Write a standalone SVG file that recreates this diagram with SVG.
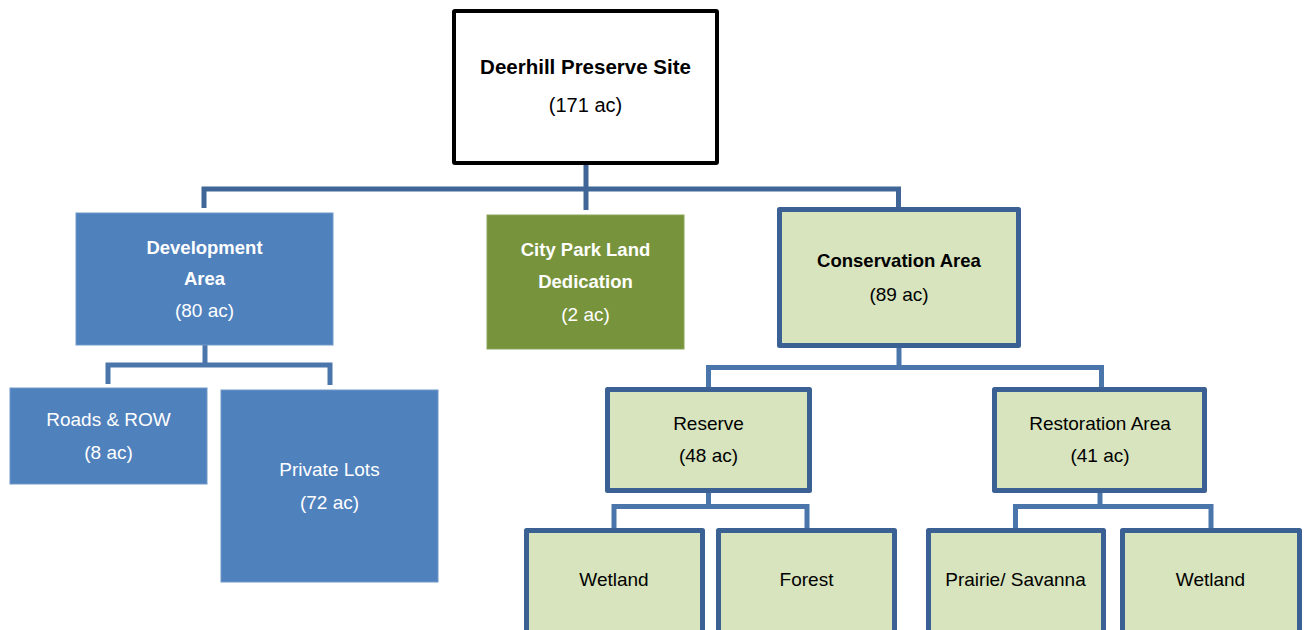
<svg xmlns="http://www.w3.org/2000/svg" width="1306" height="630" viewBox="0 0 1306 630">
<style>
  text { font-family: "Liberation Sans", Arial, sans-serif; font-size: 19px; text-anchor: middle; }
  .b { font-weight: bold; font-size: 18.5px; }
  .w { fill: #ffffff; }
  .k { fill: #000000; }
  .blue { fill: #4f81bd; stroke: #7097c8; stroke-width: 1; }
  .olive { fill: #77933c; stroke: #8aa555; stroke-width: 1; }
  .pale { fill: #d7e4bd; stroke: #3b6194; stroke-width: 5; stroke-linejoin: round; }
  .conn { fill: none; stroke-width: 5; }
  .c1 { stroke: #3f6696; }
  .c2 { stroke: #4a76ac; }
</style>
<rect width="1306" height="630" fill="#ffffff"/>

<g id="connectors">
  <path class="conn c1" d="M586,165 V210"/>
  <path class="conn c1" d="M204,208 V189 H898.5 V208"/>
  <path class="conn c2" d="M205,345 V365"/>
  <path class="conn c2" d="M108,384 V365 H330 V385"/>
  <path class="conn c2" d="M899,348 V367.5"/>
  <path class="conn c2" d="M708.5,388 V367.5 H1101.5 V388"/>
  <path class="conn c2" d="M708.5,493 V506.5"/>
  <path class="conn c2" d="M614,529 V506.5 H807 V529"/>
  <path class="conn c2" d="M1100,493 V506.5"/>
  <path class="conn c2" d="M1015.5,529 V506.5 H1211 V529"/>
</g>

<g id="root">
  <rect x="454" y="11" width="263" height="152" fill="#ffffff" stroke="#000000" stroke-width="4" rx="1"/>
  <text x="585.5" y="74" class="b k" style="font-size:20.5px">Deerhill Preserve Site</text>
  <text x="585.5" y="112" class="k" style="font-size:20px">(171 ac)</text>
</g>

<g id="development">
  <rect x="76" y="213" width="257" height="132" class="blue"/>
  <text x="204.5" y="254" class="b w">Development</text>
  <text x="204.5" y="285" class="b w">Area</text>
  <text x="204.5" y="317" class="w">(80 ac)</text>
</g>

<g id="citypark">
  <rect x="487" y="215" width="197" height="134" class="olive"/>
  <text x="585.5" y="256" class="b w">City Park Land</text>
  <text x="585.5" y="288" class="b w">Dedication</text>
  <text x="585.5" y="321" class="w">(2 ac)</text>
</g>

<g id="conservation">
  <rect x="779.5" y="209.5" width="239" height="136" class="pale"/>
  <text x="899" y="267" class="b k">Conservation Area</text>
  <text x="899" y="301" class="k">(89 ac)</text>
</g>

<g id="roads">
  <rect x="10" y="388" width="197" height="96" class="blue"/>
  <text x="108.5" y="426" class="w">Roads &amp; ROW</text>
  <text x="108.5" y="459" class="w">(8 ac)</text>
</g>

<g id="privatelots">
  <rect x="221" y="390" width="217" height="192" class="blue"/>
  <text x="329.5" y="476" class="w">Private Lots</text>
  <text x="329.5" y="509" class="w">(72 ac)</text>
</g>

<g id="reserve">
  <rect x="607.5" y="389.5" width="202" height="101" class="pale"/>
  <text x="708.5" y="430" class="k">Reserve</text>
  <text x="708.5" y="462" class="k">(48 ac)</text>
</g>

<g id="restoration">
  <rect x="994.5" y="389.5" width="210" height="101" class="pale"/>
  <text x="1100" y="430" class="k">Restoration Area</text>
  <text x="1100" y="462" class="k">(41 ac)</text>
</g>

<g id="wetland1">
  <rect x="526.5" y="530.5" width="176" height="110" class="pale"/>
  <text x="614" y="586" class="k">Wetland</text>
</g>

<g id="forest">
  <rect x="718.5" y="530.5" width="176" height="110" class="pale"/>
  <text x="806.5" y="586" class="k">Forest</text>
</g>

<g id="prairie">
  <rect x="928.5" y="530.5" width="175" height="110" class="pale"/>
  <text x="1015.5" y="586" class="k">Prairie/ Savanna</text>
</g>

<g id="wetland2">
  <rect x="1122.5" y="530.5" width="177" height="110" class="pale"/>
  <text x="1210.5" y="586" class="k">Wetland</text>
</g>
</svg>
